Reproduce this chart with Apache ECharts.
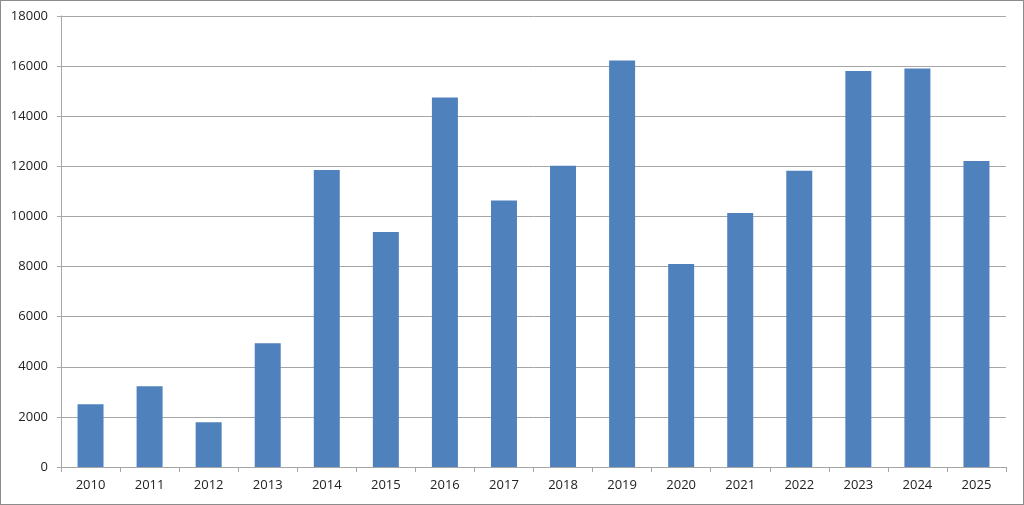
<!DOCTYPE html>
<html>
<head>
<meta charset="utf-8">
<script src="https://cdn.jsdelivr.net/npm/echarts@6/dist/echarts.min.js"></script>
<style>
html,body{margin:0;padding:0;background:#fff;}
#c{width:1024px;height:505px;box-sizing:border-box;border:1px solid #8c8c8c;}
</style>
</head>
<body>
<div id="c"></div>
<script>
const categories = ['2010','2011','2012','2013','2014','2015','2016','2017','2018','2019','2020','2021','2022','2023','2024','2025'];
const values = [2500, 3220, 1790, 4940, 11850, 9380, 14750, 10640, 12020, 16220, 8100, 10140, 11820, 15800, 15900, 12210];

const chart = echarts.init(document.getElementById('c'), null, {renderer:'canvas'});
chart.setOption({
  animation: false,
  grid: {left: 60, right: 17, top: 15, bottom: 37, containLabel: false},
  xAxis: {
    type: 'category',
    data: categories,
    boundaryGap: true,
    axisLine: {show: true, lineStyle: {color: '#a6a6a6', width: 1}},
    axisTick: {show: true, alignWithLabel: false, length: 5, lineStyle: {color: '#a6a6a6'}},
    axisLabel: {color: '#222', fontFamily: 'Open Sans', fontSize: 13, margin: 12}
  },
  yAxis: {
    type: 'value',
    min: 0, max: 18000, interval: 2000,
    axisLine: {show: true, lineStyle: {color: '#a6a6a6', width: 1}},
    axisTick: {show: true, length: 4, lineStyle: {color: '#a6a6a6'}},
    splitLine: {show: true, lineStyle: {color: '#a6a6a6', width: 1}},
    axisLabel: {color: '#222', fontFamily: 'Open Sans', fontSize: 13, margin: 13, formatter: v => String(v)}
  },
  series: [{
    type: 'bar',
    data: values,
    barWidth: '44%',
    itemStyle: {color: '#4f81bd'}
  }]
});
</script>
</body>
</html>
